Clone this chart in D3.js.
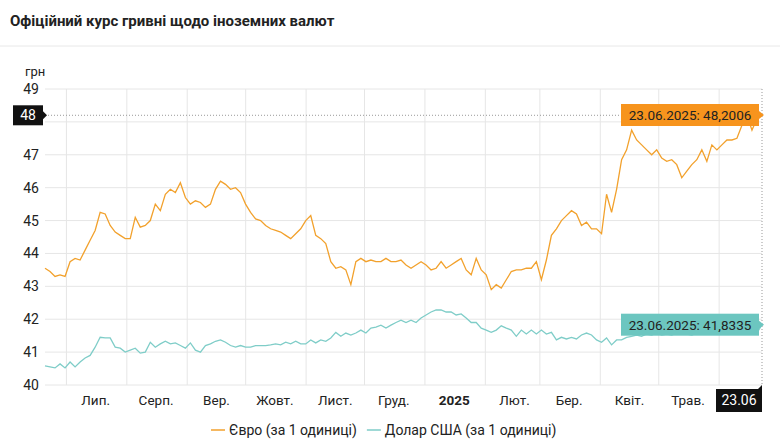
<!DOCTYPE html>
<html>
<head>
<meta charset="utf-8">
<script src="https://cdn.jsdelivr.net/npm/d3@7"></script>
<style>
  body { margin: 0; background: #fff; font-family: Roboto, sans-serif; }
  .grid line { stroke: #e6e6e6; }
  .tick text { fill: #222; }
</style>
</head>
<body>
<svg id="chart" width="780" height="441"></svg>
<script>
// data
var start_date = '2024-06-20'
var end_date = '2025-06-23'
var eur = [43.55,43.45,43.3,43.35,43.3,43.75,43.85,43.8,44.1,44.4,44.7,45.25,45.2,44.85,44.65,44.55,44.45,44.45,45.1,44.8,
  44.85,45.0,45.5,45.3,45.8,45.95,45.85,46.15,45.7,45.5,45.6,45.55,45.4,45.5,45.95,46.2,46.1,45.95,46.0,45.85,
  45.5,45.25,45.05,45.0,44.85,44.75,44.7,44.65,44.55,44.45,44.6,44.75,45.0,45.15,44.55,44.45,44.3,43.75,43.55,43.6,
  43.5,43.05,43.75,43.85,43.75,43.8,43.75,43.75,43.85,43.75,43.75,43.8,43.65,43.55,43.65,43.75,43.65,43.5,43.55,43.75,
  43.55,43.65,43.75,43.85,43.5,43.35,43.85,43.5,43.35,42.9,43.05,42.95,43.2,43.45,43.5,43.5,43.55,43.55,43.75,43.2,
  43.8,44.55,44.75,45.0,45.15,45.3,45.2,44.85,44.95,44.75,44.75,44.6,45.8,45.25,45.95,46.85,47.15,47.75,47.45,47.3,
  47.15,47.0,47.15,46.9,46.8,46.85,46.7,46.3,46.5,46.7,46.85,47.15,46.8,47.3,47.15,47.3,47.45,47.45,47.5,47.9,
  48.2,47.75,48.1,48.2006]
var usd = [40.58,40.55,40.52,40.64,40.52,40.7,40.55,40.7,40.82,40.9,41.15,41.45,41.43,41.43,41.15,41.12,41.0,41.06,41.12,40.97,
  41.0,41.3,41.15,41.25,41.33,41.25,41.28,41.2,41.12,41.28,41.06,41.0,41.2,41.25,41.33,41.37,41.3,41.2,41.15,41.2,
  41.15,41.15,41.2,41.2,41.2,41.22,41.25,41.22,41.3,41.25,41.33,41.25,41.25,41.37,41.28,41.37,41.33,41.43,41.6,41.48,
  41.58,41.52,41.58,41.67,41.58,41.73,41.76,41.82,41.73,41.82,41.9,41.97,41.9,41.97,41.9,42.04,42.13,42.22,42.28,42.28,
  42.22,42.22,42.13,42.16,42.04,41.9,41.9,41.73,41.67,41.6,41.67,41.8,41.73,41.67,41.48,41.67,41.55,41.67,41.55,41.67,
  41.55,41.6,41.37,41.45,41.4,41.45,41.4,41.52,41.58,41.52,41.37,41.3,41.43,41.22,41.37,41.37,41.45,41.48,41.52,41.48,
  41.55,41.52,41.58,41.52,41.55,41.52,41.58,41.55,41.55,41.52,41.58,41.6,41.58,41.58,41.58,41.6,41.58,41.58,41.64,41.6,
  41.6,41.55,41.58,41.8335]
var month_labels = ['Лип.','Серп.','Вер.','Жовт.','Лист.','Груд.','2025','Лют.','Бер.','Квіт.','Трав.']
var y_ticks = [40,41,42,43,44,45,46,47,49]
var series = [
  {name: 'Євро (за 1 одиниці)', values: eur, color: '#f2a12c', box: '#f7941d'},
  {name: 'Долар США (за 1 одиниці)', values: usd, color: '#7fcdc8', box: '#6cc6c0'}
]

//////////////////////////////////////////////////////////////////////////////////////////
// Setup
//////////////////////////////////////////////////////////////////////////////////////////
var svg = d3.select('#chart')
var parse = d3.timeParse('%Y-%m-%d')
var t0 = parse(start_date), t1 = parse(end_date)
var x = d3.scaleTime().domain([t0, t1]).range([45, 762])
var y = d3.scaleLinear().domain([40, 49]).range([385, 89])

function to_points(values) {
  var step = (t1 - t0) / (values.length - 1)
  return values.map(function(v, i) { return {date: new Date(+t0 + i * step), value: v} })
}

svg.append('text').attr('x', 10).attr('y', 26)
  .style('font-size', '15px').style('font-weight', 'bold').attr('fill', '#222')
  .text('Офіційний курс гривні щодо іноземних валют')
svg.append('line').attr('x1', 0).attr('x2', 780).attr('y1', 46).attr('y2', 46).attr('stroke', '#e8e8e8')

svg.append('text').attr('x', 25).attr('y', 76).style('font-size', '13px').attr('fill', '#222').text('грн')

// grid
var months = d3.timeMonth.range(parse('2024-07-01'), parse('2025-06-02'))
svg.append('g').attr('class', 'grid')
  .selectAll('line').data(months).enter().append('line')
  .attr('x1', function(d) { return x(d) }).attr('x2', function(d) { return x(d) })
  .attr('y1', 89).attr('y2', 385)
svg.append('g').attr('class', 'grid')
  .selectAll('line').data(d3.range(40, 50)).enter().append('line')
  .attr('x1', 45).attr('x2', 762)
  .attr('y1', function(d) { return y(d) }).attr('y2', function(d) { return y(d) })

// y axis
svg.append('g').attr('transform', 'translate(39,0)')
  .call(d3.axisLeft(y).tickValues(y_ticks).tickSize(0).tickPadding(0))
  .call(function(g) { g.select('.domain').remove() })
  .selectAll('text').style('font-size', '14px').style('font-family', 'Roboto')

// x labels at mid-month
svg.append('g').selectAll('text').data(months.slice(0, 11)).enter().append('text')
  .attr('x', function(d) { return x(d3.timeDay.offset(d, 15)) })
  .attr('y', 405).attr('text-anchor', 'middle')
  .style('font-size', '13.5px').style('font-weight', function(d, i) { return i == 6 ? 'bold' : 'normal' })
  .attr('fill', '#222')
  .text(function(d, i) { return month_labels[i] })

// crosshair
svg.append('line').attr('x1', 45).attr('x2', 762).attr('y1', y(48.2006)).attr('y2', y(48.2006))
  .attr('stroke', '#999').attr('stroke-dasharray', '1,2')
svg.append('line').attr('x1', x(t1)).attr('x2', x(t1)).attr('y1', 89).attr('y2', 385)
  .attr('stroke', '#999').attr('stroke-dasharray', '1,2')

// lines
var line = d3.line().x(function(d) { return x(d.date) }).y(function(d) { return y(d.value) })
series.forEach(function(s) {
  svg.append('path').datum(to_points(s.values))
    .attr('fill', 'none').attr('stroke', s.color).attr('stroke-width', 1.3).attr('d', line)
})

// tooltips
series.forEach(function(s) {
  var last = s.values[s.values.length - 1]
  var cy = s.name[0] == 'Є' ? 115 : y(last)
  var g = svg.append('g').attr('transform', 'translate(621,' + (cy - 11) + ')')
  g.append('rect').attr('width', 138).attr('height', 22).attr('fill', s.box)
  g.append('path').attr('d', 'M138,7 L143,11 L138,15 Z').attr('fill', s.box)
  g.append('text').attr('x', 69).attr('y', 16).attr('text-anchor', 'middle')
    .style('font-size', '13.5px').attr('fill', '#222')
    .text('23.06.2025: ' + String(last).replace('.', ','))
})

// y pointer label
var gy = svg.append('g').attr('transform', 'translate(13,' + (y(48.2006) - 10) + ')')
gy.append('rect').attr('width', 30).attr('height', 20).attr('fill', '#111')
gy.append('path').attr('d', 'M30,6 L34,10 L30,14 Z').attr('fill', '#111')
gy.append('text').attr('x', 15).attr('y', 15).attr('text-anchor', 'middle')
  .style('font-size', '14px').attr('fill', '#fff').text('48')

// x pointer label
var gx = svg.append('g').attr('transform', 'translate(716,389)')
gx.append('rect').attr('width', 46).attr('height', 23).attr('fill', '#111')
gx.append('path').attr('d', 'M42,0 L46,-4 L46,0 Z').attr('fill', '#111')
gx.append('text').attr('x', 23).attr('y', 16).attr('text-anchor', 'middle')
  .style('font-size', '14px').attr('fill', '#fff').text('23.06')

// legend
var lg = svg.append('g').attr('transform', 'translate(211,430)')
var lx = 0
series.forEach(function(s) {
  lg.append('line').attr('x1', lx).attr('x2', lx + 14).attr('stroke', s.color).attr('stroke-width', 1.5)
  var t = lg.append('text').attr('x', lx + 18).attr('y', 5).style('font-size', '14px').attr('fill', '#222').text(s.name)
  lx += 18 + t.node().getComputedTextLength() + 10
})
</script>
</body>
</html>
